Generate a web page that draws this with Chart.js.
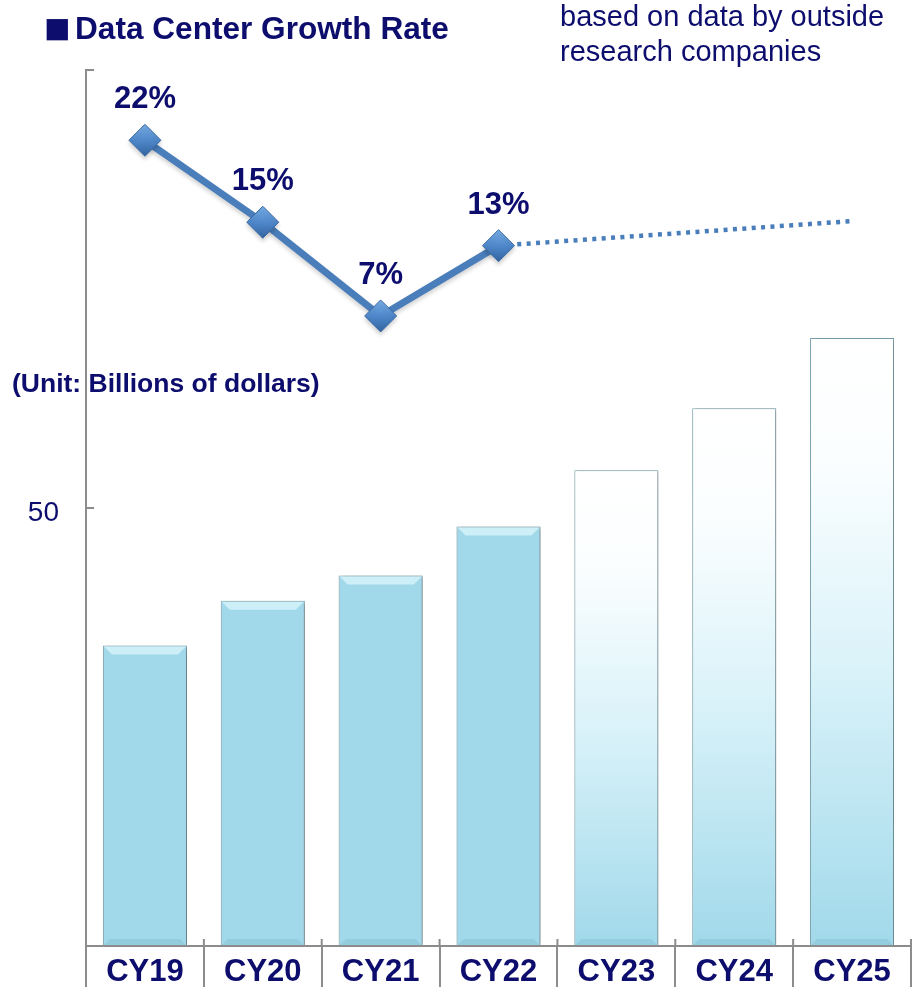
<!DOCTYPE html>
<html>
<head>
<meta charset="utf-8">
<script src="https://cdn.jsdelivr.net/npm/chart.js@4/dist/chart.umd.min.js"></script>
<style>
  html, body { margin: 0; padding: 0; background: #ffffff; }
  #wrap { position: relative; width: 914px; height: 994px; overflow: hidden; }
  #c { position: absolute; left: 0; top: 0; }
  .txt { position: absolute; white-space: nowrap; color: #0d0d6e; font-family: "Liberation Sans", Arial, sans-serif; }
  #title { left: 75px; top: 13px; font-size: 31.6px; line-height: 31px; font-weight: bold; }
  #sq { left: 44px; top: 6px; font-size: 44px; line-height: 44px; }
  #note { left: 560px; top: -1px; font-size: 29px; line-height: 35px; }
  #unit { left: 12px; top: 370px; font-size: 26.5px; line-height: 26.5px; font-weight: bold; }
</style>
</head>
<body>
<div id="wrap">
  <canvas id="c" width="914" height="994"></canvas>
  <div class="txt" id="sq">■</div>
  <div class="txt" id="title">Data Center Growth Rate</div>
  <div class="txt" id="note">based on data by outside<br>research companies</div>
  <div class="txt" id="unit">(Unit: Billions of dollars)</div>
</div>
<script>
// ---- data ----
const categories = ['CY19', 'CY20', 'CY21', 'CY22', 'CY23', 'CY24', 'CY25'];
const marketSize = [34.3, 39.4, 42.3, 47.9, 54.3, 61.4, 69.4];          // billions of dollars
const isForecast = [false, false, false, false, true, true, true];
const growthRate = [22, 15, 7, 13, null, null, null];                   // %
const growthTrend = [null, null, null, 13, null, null, 15.1];           // % (dotted projection)
const shownYTicks = [50];

const NAVY = '#0d0d6e';
const AXIS = '#8c8c8c';
const BAR_BLUE = '#a1d9ea';
const LINE_BLUE = '#4a7ebb';
const FONT = '"Liberation Sans", Arial, sans-serif';

function barFill(ctx) {
  const chart = ctx.chart;
  const i = ctx.dataIndex;
  if (!isForecast[i]) return BAR_BLUE;
  const ys = chart.scales && chart.scales.y;
  if (!ys || !chart.chartArea) return BAR_BLUE;
  const top = ys.getPixelForValue(marketSize[i]);
  const bottom = ys.getPixelForValue(0);
  if (!Number.isFinite(top) || !Number.isFinite(bottom) || top === bottom) return BAR_BLUE;
  const g = chart.ctx.createLinearGradient(0, top, 0, bottom);
  g.addColorStop(0, '#ffffff');
  g.addColorStop(0.2, '#fbfeff');
  g.addColorStop(0.55, '#d9f2f9');
  g.addColorStop(1, BAR_BLUE);
  return g;
}

function markerFill(ctx) {
  const chart = ctx.chart;
  const i = ctx.dataIndex;
  const ys = chart.scales && chart.scales.y2;
  if (!ys || !chart.chartArea || growthRate[i] == null) return '#4a84c6';
  const y = ys.getPixelForValue(growthRate[i]);
  if (!Number.isFinite(y)) return '#4a84c6';
  const g = chart.ctx.createLinearGradient(0, y - 16, 0, y + 16);
  g.addColorStop(0, '#78aee6');
  g.addColorStop(0.5, '#4f88cb');
  g.addColorStop(1, '#33649f');
  return g;
}

function noPad(s) {
  s.paddingLeft = 0; s.paddingRight = 0; s.paddingTop = 0; s.paddingBottom = 0;
}

// shadows on bars, bevel highlights
const shadowPlugin = {
  id: 'shadowPlugin',
  beforeDatasetDraw(chart, args) {
    const c = chart.ctx;
    c.save();
    if (args.index === 2) {
      c.shadowColor = 'rgba(0,0,0,0.35)';
      c.shadowBlur = 4;
      c.shadowOffsetX = 2;
      c.shadowOffsetY = 1;
    } else if (args.index === 0) {
      c.shadowColor = 'rgba(0,0,0,0.18)';
      c.shadowBlur = 4;
      c.shadowOffsetX = 0;
      c.shadowOffsetY = 3;
    }
  },
  afterDatasetDraw(chart, args) {
    const c = chart.ctx;
    c.restore();
    if (args.index === 2) {
      const meta = chart.getDatasetMeta(2);
      meta.data.forEach((bar, i) => {
        const half = bar.width / 2;
        const l = bar.x - half, r = bar.x + half, t = bar.y, d = 8;
        c.save();
        c.fillStyle = isForecast[i] ? 'rgba(255,255,255,0.6)' : 'rgba(220,246,252,0.75)';
        c.beginPath();
        c.moveTo(l + 1, t + 1);
        c.lineTo(r - 1, t + 1);
        c.lineTo(r - 1 - d, t + 1 + d);
        c.lineTo(l + 1 + d, t + 1 + d);
        c.closePath();
        c.fill();
        c.fillStyle = 'rgba(120,180,200,0.35)';
        const b = bar.base;
        c.beginPath();
        c.moveTo(l + 1, b);
        c.lineTo(r - 1, b);
        c.lineTo(r - 1 - 6, b - 6);
        c.lineTo(l + 1 + 6, b - 6);
        c.closePath();
        c.fill();
        c.restore();
      });
    }
  }
};

// percentage labels above line points + inward tick marks on the category axis
const labelPlugin = {
  id: 'labelPlugin',
  afterDraw(chart) {
    const c = chart.ctx;
    const meta = chart.getDatasetMeta(0);
    c.save();
    c.font = 'bold 31px ' + FONT;
    c.fillStyle = NAVY;
    c.textAlign = 'center';
    c.textBaseline = 'alphabetic';
    meta.data.forEach((pt, i) => {
      if (growthRate[i] == null) return;
      c.fillText(growthRate[i] + '%', pt.x, pt.y - 32);
    });
    const xs = chart.scales.x;
    const bottom = chart.chartArea.bottom;
    const step = xs.getPixelForValue(1) - xs.getPixelForValue(0);
    c.strokeStyle = AXIS;
    c.lineWidth = 2;
    for (let i = 1; i <= categories.length; i++) {
      const bx = xs.getPixelForValue(i - 1) + step / 2;
      c.beginPath();
      c.moveTo(bx, bottom - 7);
      c.lineTo(bx, bottom);
      c.stroke();
    }
    c.restore();
  }
};

new Chart(document.getElementById('c'), {
  data: {
    labels: categories,
    datasets: [
      {
        type: 'line',
        label: 'Growth rate',
        data: growthRate,
        yAxisID: 'y2',
        order: 0,
        borderColor: LINE_BLUE,
        borderWidth: 7,
        tension: 0,
        pointStyle: 'rectRot',
        pointRadius: 16,
        pointBackgroundColor: markerFill,
        pointBorderColor: '#3a6aa5',
        pointBorderWidth: 1,
        clip: false
      },
      {
        type: 'line',
        label: 'Growth trend',
        data: growthTrend,
        yAxisID: 'y2',
        order: 1,
        spanGaps: true,
        borderColor: LINE_BLUE,
        borderWidth: 4.5,
        borderDash: [4, 5.4],
        borderCapStyle: 'butt',
        pointRadius: 0,
        tension: 0,
        clip: false
      },
      {
        type: 'bar',
        label: 'Market size',
        data: marketSize,
        yAxisID: 'y',
        order: 2,
        backgroundColor: barFill,
        borderColor: '#7fa9b5',
        borderWidth: 1,
        barPercentage: 0.713,
        categoryPercentage: 1.0
      }
    ]
  },
  options: {
    responsive: false,
    animation: false,
    layout: { autoPadding: false, padding: { top: 70, right: 3, left: 0, bottom: 0 } },
    plugins: { legend: { display: false }, tooltip: { enabled: false }, title: { display: false } },
    scales: {
      x: {
        offset: true,
        ticks: { color: NAVY, font: { family: FONT, size: 31, weight: 'bold' }, padding: -33, maxRotation: 0, autoSkip: false },
        grid: { offset: true, drawOnChartArea: false, drawTicks: true, tickLength: 41, color: AXIS, lineWidth: 2 },
        border: { color: AXIS, width: 2 },
        afterFit(s) { s.height = 48; noPad(s); }
      },
      y: {
        position: 'left',
        min: 0, max: 100,
        ticks: {
          stepSize: 50,
          color: NAVY,
          font: { family: FONT, size: 28 },
          padding: 35,
          labelOffset: 5,
          callback: v => shownYTicks.includes(v) ? String(v) : ''
        },
        grid: { drawOnChartArea: false, drawTicks: true, tickLength: -8, color: AXIS, lineWidth: 2 },
        border: { color: AXIS, width: 2 },
        afterFit(s) { s.width = 86; noPad(s); }
      },
      y2: {
        display: false,
        min: -46.8, max: 28.0,
        afterFit(s) { noPad(s); }
      }
    }
  },
  plugins: [shadowPlugin, labelPlugin]
});
</script>
</body>
</html>
